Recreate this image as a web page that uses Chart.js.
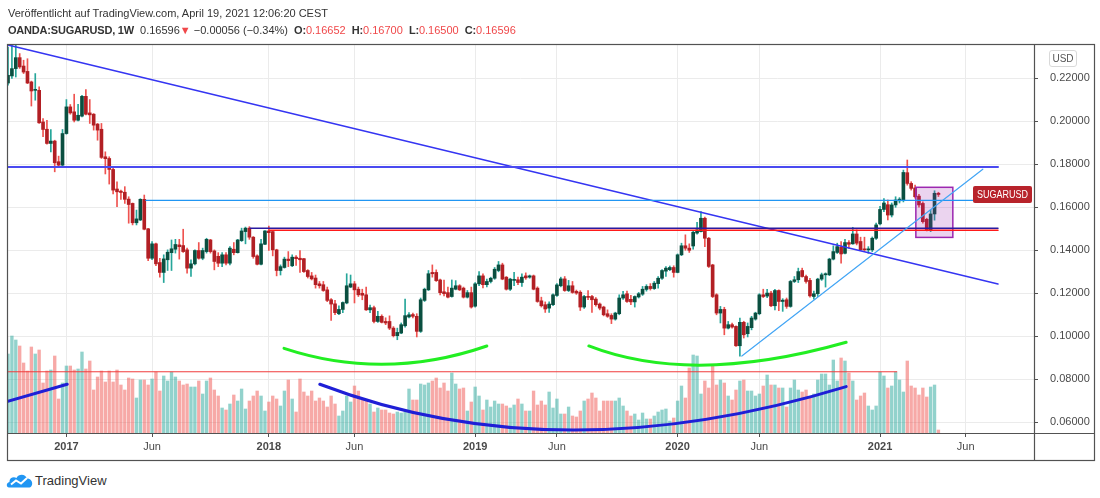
<!DOCTYPE html>
<html lang="de">
<head>
<meta charset="utf-8">
<title>OANDA:SUGARUSD, 1W</title>
<script src="https://cdn.jsdelivr.net/npm/chart.js@4.4.1/dist/chart.umd.min.js"></script>
<style>
  html, body { margin: 0; padding: 0; background: #fff; }
  body { width: 1100px; height: 498px; position: relative; overflow: hidden;
         font-family: "Liberation Sans", Arial, sans-serif; color: #333; }
  #chart { position: absolute; left: 0; top: 0; }
  .line { position: absolute; left: 8px; font-size: 11px; line-height: 14px; white-space: nowrap; }
  #pub { top: 6px; }
  #quote { top: 23px; }
  #quote b { letter-spacing: -0.2px; }
  .red { color: #f0484a; }
  #usd { position: absolute; left: 1049px; top: 50px; width: 26px; height: 15px; border: 1px solid #d9d9d9;
         border-radius: 3px; font-size: 10px; line-height: 15px; text-align: center; color: #555; }
  #brand { position: absolute; left: 6px; top: 471px; height: 18px; display: flex; align-items: center;
           font-size: 13px; color: #333; }
  #brand svg { margin-right: 2px; }
</style>
</head>
<body>
<canvas id="chart" width="1100" height="462"></canvas>
<div class="line" id="pub">Veröffentlicht auf TradingView.com, April 19, 2021 12:06:20 CEST</div>
<div class="line" id="quote"><b>OANDA:SUGARUSD, 1W</b>&nbsp; 0.16596<span class="red">▼</span> −0.00056 (−0.34%)&nbsp; <b>O:</b><span class="red">0.16652</span>&nbsp; <b>H:</b><span class="red">0.16700</span>&nbsp; <b>L:</b><span class="red">0.16500</span>&nbsp; <b>C:</b><span class="red">0.16596</span></div>
<div id="usd">USD</div>
<div id="brand">
  <svg width="27" height="16" viewBox="0 0 27 16">
    <path d="M3 15.5 C0 15.5 0 10.5 3.5 10 C3 6 7.5 4 10.5 6 C12.5 1.5 19.5 1.5 21 6.5 C25 6.5 27.5 10.5 25.5 14 C24.8 15.2 24 15.5 22.5 15.5 Z" fill="#2196f3"/>
    <polyline points="5,12.5 10,8.5 15,11.5 21,6" stroke="#fff" stroke-width="2" fill="none"/>
  </svg>
  <span>TradingView</span>
</div>
<script>
// Wöchentliche Kerzen SUGARUSD, erste Kerze = Woche vom 19.09.2016 (Index 0)
const opens = [
  0.2178, 0.2211, 0.2245, 0.2296, 0.2257, 0.2232, 0.2183, 0.2144, 0.2144, 0.1997,
  0.1963, 0.1897, 0.1908, 0.1812, 0.1796, 0.1943, 0.2067, 0.2044, 0.2005, 0.2024,
  0.2116, 0.2039, 0.2033, 0.1987, 0.1963, 0.1835, 0.1827, 0.1776, 0.1685, 0.1675,
  0.1670, 0.1638, 0.1618, 0.1528, 0.1541, 0.1637, 0.1500, 0.1363, 0.1430, 0.1343,
  0.1297, 0.1356, 0.1389, 0.1405, 0.1425, 0.1422, 0.1402, 0.1317, 0.1337, 0.1399,
  0.1363, 0.1394, 0.1448, 0.1397, 0.1372, 0.1340, 0.1379, 0.1340, 0.1405, 0.1389,
  0.1445, 0.1487, 0.1503, 0.1461, 0.1374, 0.1335, 0.1428, 0.1490, 0.1487, 0.1402,
  0.1306, 0.1320, 0.1359, 0.1328, 0.1368, 0.1363, 0.1361, 0.1306, 0.1281, 0.1271,
  0.1244, 0.1240, 0.1216, 0.1170, 0.1151, 0.1105, 0.1125, 0.1155, 0.1229, 0.1244,
  0.1219, 0.1200, 0.1193, 0.1123, 0.1133, 0.1069, 0.1093, 0.1069, 0.1069, 0.1038,
  0.1003, 0.1015, 0.1049, 0.1090, 0.1101, 0.1093, 0.1023, 0.1167, 0.1216, 0.1297,
  0.1297, 0.1262, 0.1207, 0.1203, 0.1185, 0.1219, 0.1235, 0.1224, 0.1182, 0.1203,
  0.1140, 0.1244, 0.1281, 0.1240, 0.1255, 0.1270, 0.1306, 0.1332, 0.1275, 0.1219,
  0.1260, 0.1263, 0.1250, 0.1281, 0.1275, 0.1281, 0.1224, 0.1165, 0.1147, 0.1131,
  0.1147, 0.1190, 0.1235, 0.1267, 0.1213, 0.1235, 0.1209, 0.1205, 0.1136, 0.1183,
  0.1185, 0.1173, 0.1150, 0.1136, 0.1105, 0.1097, 0.1080, 0.1105, 0.1178, 0.1198,
  0.1172, 0.1160, 0.1183, 0.1196, 0.1218, 0.1232, 0.1222, 0.1245, 0.1270, 0.1303,
  0.1310, 0.1320, 0.1297, 0.1379, 0.1421, 0.1410, 0.1420, 0.1480, 0.1487, 0.1549,
  0.1456, 0.1332, 0.1193, 0.1108, 0.1125, 0.1038, 0.1054, 0.1046, 0.0956, 0.1065,
  0.1012, 0.1040, 0.1080, 0.1105, 0.1193, 0.1187, 0.1201, 0.1142, 0.1213, 0.1162,
  0.1170, 0.1139, 0.1255, 0.1263, 0.1306, 0.1278, 0.1260, 0.1185, 0.1198, 0.1266,
  0.1286, 0.1286, 0.1359, 0.1390, 0.1414, 0.1386, 0.1436, 0.1430, 0.1476, 0.1441,
  0.1404, 0.1402, 0.1402, 0.1456, 0.1523, 0.1590, 0.1612, 0.1564, 0.1611, 0.1630,
  0.1632, 0.1761, 0.1711, 0.1690, 0.1652, 0.1618, 0.1544, 0.1492, 0.1569, 0.16652
];
const highs = [
  0.2345, 0.2358, 0.2358, 0.2315, 0.2284, 0.2291, 0.2187, 0.2222, 0.2160, 0.2013,
  0.2005, 0.1962, 0.1912, 0.1838, 0.1962, 0.2101, 0.2078, 0.2126, 0.2079, 0.2121,
  0.2148, 0.2101, 0.2036, 0.1990, 0.1990, 0.1858, 0.1835, 0.1786, 0.1719, 0.1680,
  0.1696, 0.1649, 0.1620, 0.1587, 0.1640, 0.1657, 0.1502, 0.1441, 0.1433, 0.1363,
  0.1379, 0.1402, 0.1448, 0.1451, 0.1451, 0.1498, 0.1410, 0.1356, 0.1402, 0.1436,
  0.1410, 0.1456, 0.1451, 0.1402, 0.1389, 0.1389, 0.1389, 0.1417, 0.1436, 0.1451,
  0.1503, 0.1508, 0.1510, 0.1464, 0.1379, 0.1451, 0.1492, 0.1513, 0.1490, 0.1405,
  0.1332, 0.1368, 0.1394, 0.1379, 0.1375, 0.1399, 0.1363, 0.1310, 0.1297, 0.1285,
  0.1255, 0.1255, 0.1229, 0.1175, 0.1167, 0.1142, 0.1160, 0.1291, 0.1285, 0.1255,
  0.1229, 0.1219, 0.1229, 0.1145, 0.1140, 0.1116, 0.1100, 0.1086, 0.1095, 0.1045,
  0.1038, 0.1062, 0.1173, 0.1110, 0.1108, 0.1105, 0.1178, 0.1224, 0.1306, 0.1332,
  0.1309, 0.1266, 0.1262, 0.1229, 0.1262, 0.1259, 0.1240, 0.1229, 0.1213, 0.1229,
  0.1250, 0.1301, 0.1290, 0.1266, 0.1275, 0.1320, 0.1348, 0.1340, 0.1278, 0.1270,
  0.1297, 0.1275, 0.1290, 0.1295, 0.1285, 0.1285, 0.1230, 0.1182, 0.1160, 0.1160,
  0.1198, 0.1245, 0.1275, 0.1278, 0.1260, 0.1255, 0.1215, 0.1212, 0.1190, 0.1213,
  0.1190, 0.1180, 0.1155, 0.1140, 0.1123, 0.1105, 0.1112, 0.1193, 0.1209, 0.1210,
  0.1190, 0.1188, 0.1204, 0.1232, 0.1240, 0.1245, 0.1255, 0.1278, 0.1310, 0.1324,
  0.1327, 0.1328, 0.1383, 0.1433, 0.1472, 0.1430, 0.1492, 0.1530, 0.1580, 0.1554,
  0.1460, 0.1335, 0.1198, 0.1139, 0.1135, 0.1069, 0.1062, 0.1049, 0.1085, 0.1070,
  0.1062, 0.1093, 0.1112, 0.1198, 0.1219, 0.1219, 0.1209, 0.1219, 0.1216, 0.1175,
  0.1178, 0.1260, 0.1278, 0.1317, 0.1317, 0.1285, 0.1270, 0.1210, 0.1270, 0.1294,
  0.1295, 0.1363, 0.1421, 0.1433, 0.1441, 0.1451, 0.1445, 0.1507, 0.1495, 0.1461,
  0.1461, 0.1417, 0.1462, 0.1526, 0.1605, 0.1640, 0.1634, 0.1620, 0.1649, 0.1645,
  0.1773, 0.1820, 0.1719, 0.1703, 0.1660, 0.1625, 0.1549, 0.1588, 0.1677, 0.16700
];
const lows = [
  0.2168, 0.2199, 0.2206, 0.2246, 0.2222, 0.2175, 0.2071, 0.2098, 0.1990, 0.1928,
  0.1894, 0.1858, 0.1765, 0.1792, 0.1792, 0.1940, 0.2033, 0.1997, 0.2002, 0.2020,
  0.2030, 0.1990, 0.1959, 0.1912, 0.1827, 0.1755, 0.1708, 0.1662, 0.1603, 0.1637,
  0.1618, 0.1526, 0.1518, 0.1518, 0.1538, 0.1495, 0.1352, 0.1356, 0.1328, 0.1275,
  0.1250, 0.1306, 0.1306, 0.1387, 0.1359, 0.1390, 0.1294, 0.1278, 0.1332, 0.1359,
  0.1356, 0.1387, 0.1387, 0.1309, 0.1324, 0.1324, 0.1332, 0.1332, 0.1379, 0.1387,
  0.1441, 0.1430, 0.1451, 0.1363, 0.1332, 0.1332, 0.1426, 0.1399, 0.1374, 0.1281,
  0.1285, 0.1317, 0.1324, 0.1324, 0.1330, 0.1297, 0.1297, 0.1271, 0.1262, 0.1224,
  0.1224, 0.1209, 0.1161, 0.1074, 0.1100, 0.1100, 0.1110, 0.1151, 0.1226, 0.1155,
  0.1185, 0.1170, 0.1120, 0.1110, 0.1062, 0.1065, 0.1062, 0.1054, 0.1031, 0.0997,
  0.0984, 0.1012, 0.1043, 0.1086, 0.1085, 0.0997, 0.1018, 0.1162, 0.1213, 0.1275,
  0.1255, 0.1193, 0.1188, 0.1178, 0.1182, 0.1216, 0.1213, 0.1178, 0.1178, 0.1131,
  0.1135, 0.1235, 0.1225, 0.1230, 0.1248, 0.1265, 0.1300, 0.1263, 0.1215, 0.1213,
  0.1235, 0.1240, 0.1232, 0.1265, 0.1270, 0.1216, 0.1158, 0.1136, 0.1111, 0.1111,
  0.1142, 0.1185, 0.1230, 0.1209, 0.1208, 0.1200, 0.1195, 0.1120, 0.1130, 0.1170,
  0.1111, 0.1140, 0.1123, 0.1095, 0.1088, 0.1059, 0.1075, 0.1100, 0.1172, 0.1158,
  0.1147, 0.1136, 0.1178, 0.1190, 0.1210, 0.1215, 0.1218, 0.1224, 0.1265, 0.1278,
  0.1305, 0.1275, 0.1295, 0.1375, 0.1400, 0.1390, 0.1405, 0.1475, 0.1485, 0.1417,
  0.1320, 0.1180, 0.1100, 0.1062, 0.1007, 0.1034, 0.1038, 0.0953, 0.0907, 0.0992,
  0.0997, 0.1030, 0.1075, 0.1100, 0.1180, 0.1180, 0.1138, 0.1123, 0.1119, 0.1116,
  0.1130, 0.1135, 0.1250, 0.1250, 0.1275, 0.1247, 0.1182, 0.1173, 0.1185, 0.1260,
  0.1229, 0.1282, 0.1355, 0.1385, 0.1340, 0.1383, 0.1410, 0.1428, 0.1425, 0.1399,
  0.1399, 0.1386, 0.1394, 0.1451, 0.1518, 0.1580, 0.1541, 0.1555, 0.1600, 0.1620,
  0.1625, 0.1703, 0.1680, 0.1642, 0.1600, 0.1526, 0.1490, 0.1487, 0.1540, 0.16500
];
const closes = [
  0.2214, 0.2245, 0.2296, 0.2253, 0.2229, 0.2178, 0.2141, 0.2146, 0.1993, 0.1962,
  0.1897, 0.1908, 0.1807, 0.1796, 0.1943, 0.2067, 0.2039, 0.2005, 0.2028, 0.2116,
  0.2033, 0.2030, 0.1982, 0.1959, 0.1832, 0.1826, 0.1776, 0.1680, 0.1672, 0.1669,
  0.1637, 0.1613, 0.1528, 0.1546, 0.1637, 0.1498, 0.1363, 0.1430, 0.1337, 0.1297,
  0.1360, 0.1391, 0.1407, 0.1427, 0.1417, 0.1394, 0.1317, 0.1337, 0.1399, 0.1363,
  0.1399, 0.1451, 0.1394, 0.1348, 0.1340, 0.1379, 0.1340, 0.1410, 0.1389, 0.1448,
  0.1490, 0.1503, 0.1461, 0.1371, 0.1335, 0.1430, 0.1490, 0.1482, 0.1402, 0.1306,
  0.1324, 0.1359, 0.1352, 0.1368, 0.1361, 0.1356, 0.1301, 0.1278, 0.1267, 0.1240,
  0.1235, 0.1213, 0.1167, 0.1150, 0.1110, 0.1125, 0.1157, 0.1235, 0.1244, 0.1216,
  0.1193, 0.1191, 0.1123, 0.1133, 0.1069, 0.1093, 0.1065, 0.1062, 0.1038, 0.1003,
  0.1018, 0.1054, 0.1096, 0.1100, 0.1093, 0.1023, 0.1170, 0.1219, 0.1291, 0.1291,
  0.1259, 0.1203, 0.1198, 0.1182, 0.1224, 0.1235, 0.1216, 0.1182, 0.1203, 0.1136,
  0.1244, 0.1281, 0.1240, 0.1255, 0.1270, 0.1312, 0.1332, 0.1266, 0.1219, 0.1266,
  0.1263, 0.1250, 0.1275, 0.1272, 0.1281, 0.1219, 0.1162, 0.1142, 0.1127, 0.1150,
  0.1193, 0.1239, 0.1267, 0.1213, 0.1235, 0.1204, 0.1201, 0.1136, 0.1185, 0.1181,
  0.1170, 0.1147, 0.1131, 0.1100, 0.1093, 0.1080, 0.1108, 0.1178, 0.1193, 0.1162,
  0.1160, 0.1185, 0.1198, 0.1219, 0.1232, 0.1222, 0.1247, 0.1270, 0.1306, 0.1317,
  0.1320, 0.1297, 0.1379, 0.1421, 0.1410, 0.1400, 0.1484, 0.1495, 0.1549, 0.1456,
  0.1325, 0.1185, 0.1108, 0.1125, 0.1038, 0.1054, 0.1043, 0.0956, 0.1065, 0.1007,
  0.1046, 0.1085, 0.1108, 0.1193, 0.1185, 0.1201, 0.1142, 0.1213, 0.1162, 0.1168,
  0.1139, 0.1255, 0.1263, 0.1301, 0.1278, 0.1255, 0.1188, 0.1198, 0.1266, 0.1286,
  0.1291, 0.1359, 0.1394, 0.1417, 0.1383, 0.1436, 0.1428, 0.1476, 0.1433, 0.1402,
  0.1402, 0.1404, 0.1456, 0.1518, 0.1590, 0.1620, 0.1564, 0.1611, 0.1634, 0.1638,
  0.1762, 0.1711, 0.1688, 0.1649, 0.1611, 0.1533, 0.1495, 0.1569, 0.16652, 0.16596
];
// Volumen (relative Einheiten, keine Achse im Original)
const volumes = [
  79, 97, 93, 87, 70, 62, 86, 79, 83, 50,
  62, 63, 77, 34, 50, 67, 67, 63, 64, 81,
  64, 72, 43, 56, 62, 51, 62, 51, 63, 48,
  43, 55, 54, 35, 53, 53, 48, 54, 61, 42,
  57, 52, 61, 56, 52, 48, 49, 46, 46, 52,
  39, 52, 55, 43, 37, 25, 23, 29, 38, 32,
  44, 24, 32, 37, 42, 37, 22, 31, 37, 34,
  27, 42, 53, 34, 21, 54, 41, 37, 42, 32,
  35, 32, 26, 37, 29, 17, 22, 37, 31, 47,
  42, 33, 33, 29, 21, 25, 23, 23, 20, 19,
  21, 20, 21, 44, 33, 33, 49, 48, 50, 52,
  55, 45, 50, 42, 60, 49, 44, 45, 22, 31,
  46, 37, 23, 33, 26, 32, 29, 29, 27, 25,
  28, 34, 29, 22, 22, 42, 28, 32, 28, 41,
  25, 34, 19, 19, 26, 17, 16, 22, 32, 34,
  40, 35, 22, 32, 32, 32, 32, 35, 27, 22,
  17, 19, 13, 20, 14, 14, 17, 21, 23, 24,
  12, 15, 32, 47, 35, 65, 78, 77, 39, 52,
  45, 67, 48, 53, 50, 37, 33, 43, 52, 53,
  42, 42, 37, 39, 47, 58, 48, 48, 45, 45,
  26, 45, 53, 43, 41, 43, 35, 39, 53, 59,
  59, 48, 73, 52, 75, 72, 60, 52, 33, 37,
  40, 27, 23, 27, 61, 57, 45, 47, 61, 53,
  41, 72, 47, 45, 38, 45, 36, 46, 48, 3
];
// Zeitachse: Wochenindex der Beschriftungen
const tickWeeks = [15, 37, 67, 89, 120, 141, 172, 193, 224, 246];
const tickLabels = ['2017', 'Jun', '2018', 'Jun', '2019', 'Jun', '2020', 'Jun', '2021', 'Jun'];
const priceTicks = [0.06, 0.08, 0.10, 0.12, 0.14, 0.16, 0.18, 0.20, 0.22];

// Zeichnungen (Wochenindex, Preis)
const segments = [
  { from: [0, 0.2355], to: [254.3, 0.1243], color: '#3535f2', width: 1.5 },
  { from: [-0.3, 0.1787], to: [254.3, 0.1787], color: '#4a4af0', width: 2 },
  { from: [35.4, 0.16325], to: [254.8, 0.16325], color: '#2196f3', width: 1.2 },
  { from: [62.2, 0.1502], to: [254.3, 0.1502], color: '#2a1aa0', width: 1.5 },
  { from: [67.1, 0.1493], to: [254.3, 0.1493], color: '#ff1a1a', width: 1.5 },
  { from: [188.5, 0.0908], to: [250.4, 0.1777], color: '#42a5f5', width: 1.2 },
  { from: [-0.3, 0.0835], to: [228.3, 0.0835], color: '#f03c3c', width: 1 },
  { from: [-0.3, 0.0696], to: [15.2, 0.0777], color: '#1f1fd6', width: 3 }
];
const arcs = [
  { pts: [[70.9, 0.0944], [96.8, 0.0870], [123.0, 0.0955]], color: '#22ee22', width: 3 },
  { pts: [[149.2, 0.0955], [179.0, 0.0866], [215.3, 0.0972]], color: '#22ee22', width: 3 },
  { pts: [[80.1, 0.0777], [144.4, 0.0564], [215.3, 0.0766]], color: '#1f1fd6', width: 3 }
];
const zone = { from: 233.2, to: 242.7, top: 0.1693, bottom: 0.1460 };

const weeks = closes.map((c, i) => i);
const isUp = i => closes[i] >= opens[i];

const overlay = {
  id: 'overlay',
  afterDatasetsDraw(chart) {
    const { ctx, chartArea: a, scales } = chart;
    const px = p => ({ x: scales.x.getPixelForValue(p[0]), y: scales.y.getPixelForValue(p[1]) });
    ctx.save();
    ctx.beginPath();
    ctx.rect(a.left, a.top, a.right - a.left, a.bottom - a.top);
    ctx.clip();

    const z0 = px([zone.from, zone.top]), z1 = px([zone.to, zone.bottom]);
    ctx.fillStyle = 'rgba(156, 39, 176, 0.2)';
    ctx.fillRect(z0.x, z0.y, z1.x - z0.x, z1.y - z0.y);
    ctx.strokeStyle = '#9c27b0';
    ctx.lineWidth = 1.5;
    ctx.strokeRect(z0.x, z0.y, z1.x - z0.x, z1.y - z0.y);

    ctx.lineCap = 'round';
    segments.forEach(s => {
      const p = px(s.from), q = px(s.to);
      ctx.strokeStyle = s.color;
      ctx.lineWidth = s.width;
      ctx.beginPath();
      ctx.moveTo(p.x, p.y);
      ctx.lineTo(q.x, q.y);
      ctx.stroke();
    });
    arcs.forEach(arc => {
      const [p0, m, p2] = arc.pts.map(px);
      // Kontrollpunkt so, dass die Kurve durch den mittleren Punkt geht
      const cx = 2 * m.x - (p0.x + p2.x) / 2, cy = 2 * m.y - (p0.y + p2.y) / 2;
      ctx.strokeStyle = arc.color;
      ctx.lineWidth = arc.width;
      ctx.beginPath();
      ctx.moveTo(p0.x, p0.y);
      ctx.quadraticCurveTo(cx, cy, p2.x, p2.y);
      ctx.stroke();
    });
    ctx.restore();

    // Symbol-Label am letzten Kurs
    const ly = Math.round(scales.y.getPixelForValue(closes[closes.length - 1]));
    ctx.save();
    ctx.fillStyle = '#b8232b';
    ctx.beginPath();
    ctx.roundRect(973, ly - 8, 59, 17, 2);
    ctx.fill();
    ctx.fillStyle = '#fff';
    ctx.font = '11px "Liberation Sans", Arial, sans-serif';
    ctx.textAlign = 'center';
    ctx.textBaseline = 'middle';
    ctx.fillText('SUGARUSD', 1002.5, ly + 0.5, 51);
    ctx.restore();
  },
  afterDraw(chart) {
    const { ctx, chartArea: a } = chart;
    ctx.save();
    ctx.strokeStyle = '#525252';
    ctx.lineWidth = 1.2;
    ctx.strokeRect(7.5, 44.5, 1087, 416);
    ctx.beginPath();
    ctx.moveTo(a.right + 0.5, 44); ctx.lineTo(a.right + 0.5, 461);
    ctx.moveTo(7, a.bottom + 0.5); ctx.lineTo(1095, a.bottom + 0.5);
    ctx.stroke();
    ctx.restore();
  }
};

const axisFont = { family: '"Liberation Sans", Arial, sans-serif', size: 11 };

new Chart(document.getElementById('chart'), {
  type: 'bar',
  data: {
    datasets: [
      {
        label: 'Volumen',
        data: weeks.map(i => ({ x: i, y: volumes[i] })),
        yAxisID: 'yv',
        backgroundColor: c => isUp(c.dataIndex) ? 'rgba(38, 166, 154, 0.5)' : 'rgba(239, 83, 80, 0.5)',
        barThickness: 2.7,
        grouped: false,
        order: 3
      },
      {
        label: 'Docht',
        data: weeks.map(i => ({ x: i, y: [lows[i], highs[i]] })),
        yAxisID: 'y',
        backgroundColor: c => isUp(c.dataIndex) ? '#26a69a' : '#ef5350',
        barThickness: 1,
        grouped: false,
        order: 2
      },
      {
        label: 'Körper',
        data: weeks.map(i => ({ x: i, y: [Math.min(opens[i], closes[i]), Math.max(opens[i], closes[i])] })),
        yAxisID: 'y',
        backgroundColor: c => isUp(c.dataIndex) ? '#0a4f40' : '#b21f24',
        barThickness: 3,
        minBarLength: 1,
        grouped: false,
        order: 1
      }
    ]
  },
  options: {
    responsive: false,
    animation: false,
    events: [],
    layout: { padding: { top: 44, left: 7, right: 0, bottom: 0 } },
    plugins: { legend: { display: false }, tooltip: { enabled: false } },
    scales: {
      x: {
        type: 'linear',
        min: -0.26,
        max: 263.55,
        offset: false,
        afterBuildTicks: s => { s.ticks = tickWeeks.map(v => ({ value: v })); },
        afterFit: s => { s.height = 29; },
        ticks: {
          autoSkip: false,
          maxRotation: 0,
          padding: 3,
          color: '#4a4a4a',
          callback: (v, i) => tickLabels[i],
          font: c => ({ ...axisFont, weight: /^\d{4}$/.test(tickLabels[c.index]) ? 'bold' : 'normal' })
        },
        grid: { color: '#ebebeb', offset: false, tickLength: 4, tickColor: '#525252' },
        border: { display: false }
      },
      y: {
        position: 'right',
        min: 0.05502,
        max: 0.23595,
        afterBuildTicks: s => { s.ticks = priceTicks.map(v => ({ value: v })); },
        afterFit: s => { s.width = 66; },
        ticks: { padding: 12, color: '#4a4a4a', font: axisFont, callback: v => v.toFixed(5) },
        grid: { color: '#ebebeb', tickLength: 4, tickColor: '#525252' },
        border: { display: false }
      },
      yv: { display: false, min: 0, max: 389 }
    }
  },
  plugins: [overlay]
});
</script>
</body>
</html>
